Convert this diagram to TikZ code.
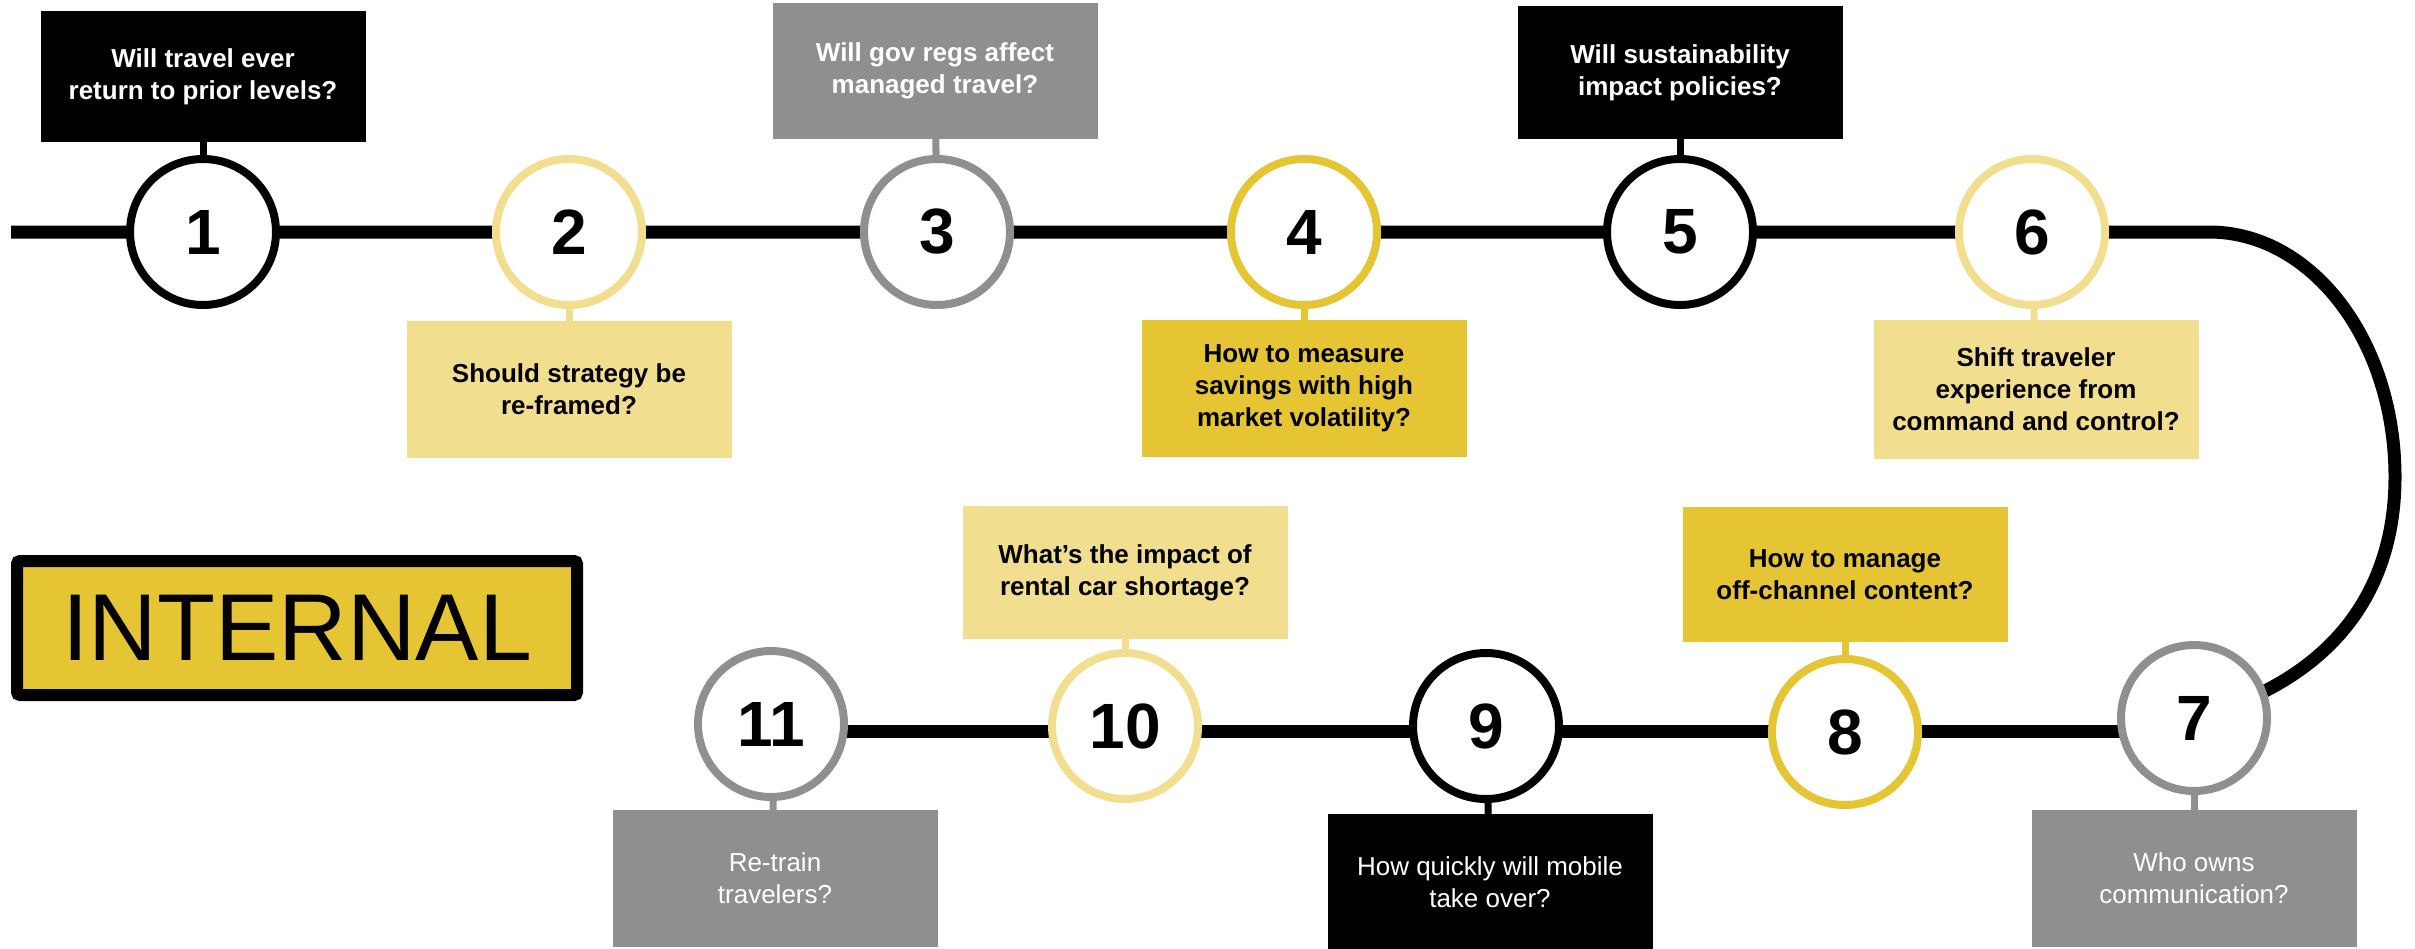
\documentclass[tikz,border=0pt]{standalone}
\usepackage{fontspec}
\setmainfont{Liberation Sans}
\usetikzlibrary{backgrounds}
\definecolor{ltyel}{RGB}{241,222,142}
\definecolor{gold}{RGB}{230,197,53}
\definecolor{gry}{RGB}{143,143,143}
\begin{document}
\begin{tikzpicture}[x=1pt,y=-1pt,
  stop/.style={circle, draw=#1, line width=8pt, fill=white, minimum size=146pt,
    inner sep=0pt, font=\fontsize{64}{64}\selectfont\bfseries},
  qbox/.style 2 args={fill=#1, text=#2, minimum width=325pt, inner sep=0pt,
    align=center, font=\fontsize{26}{32}\selectfont\bfseries},
  qreg/.style={font=\fontsize{26}{32}\selectfont},
  stub/.style={draw=#1, line width=7pt},
  mainline/.style={draw=black, line width=13pt}]
\useasboundingbox (0,0) rectangle (2415,948);

% stops
\node[stop=black]  (c1)  at (203,232)  {1};
\node[stop=ltyel]  (c2)  at (569,232)  {2};
\node[stop=gry]    (c3)  at (937,232)  {3};
\node[stop=gold]   (c4)  at (1304,232) {4};
\node[stop=black]  (c5)  at (1680,232) {5};
\node[stop=ltyel]  (c6)  at (2032,232) {6};
\node[stop=gry]    (c7)  at (2194,718) {7};
\node[stop=gold]   (c8)  at (1845,732) {8};
\node[stop=black]  (c9)  at (1486,726) {9};
\node[stop=ltyel]  (c10) at (1125,726) {10};
\node[stop=gry]    (c11) at (771,724)  {11};

% question boxes
\node[qbox={black}{white}, minimum height=131pt] (b1) at (203,76.5)
  {Will travel ever\\return to prior levels?};
\node[qbox={ltyel}{black}, minimum height=137pt] (b2) at (569,389.5)
  {Should strategy be\\re-framed?};
\node[qbox={gry}{white}, minimum height=136pt] (b3) at (935,71)
  {Will gov regs affect\\managed travel?};
\node[qbox={gold}{black}, minimum height=137pt] (b4) at (1304,388.5)
  {How to measure\\savings with high\\market volatility?};
\node[qbox={black}{white}, minimum height=133pt] (b5) at (1680,72.5)
  {Will sustainability\\impact policies?};
\node[qbox={ltyel}{black}, minimum height=139pt] (b6) at (2036,389.5)
  {Shift traveler\\experience from\\command and control?};
\node[qbox={gry}{white}, qreg, minimum height=137pt] (b7) at (2194,878.5)
  {Who owns\\communication?};
\node[qbox={gold}{black}, minimum height=135pt] (b8) at (1845,574.5)
  {How to manage\\off-channel content?};
\node[qbox={black}{white}, qreg, minimum height=137pt] (b9) at (1490,882.5)
  {How quickly will mobile\\take over?};
\node[qbox={ltyel}{black}, minimum height=133pt] (b10) at (1125,572.5)
  {What’s the impact of\\rental car shortage?};
\node[qbox={gry}{white}, qreg, minimum height=137pt] (b11) at (775,878.5)
  {Re-train\\travelers?};

% INTERNAL label
\node[draw=black, line width=12pt, rounded corners=3pt, fill=gold,
  minimum width=560pt, minimum height=134pt, inner sep=0pt,
  font=\fontsize{95}{95}\selectfont] (int) at (297,628) {INTERNAL};

% stubs
\draw[stub=black] (b1) -- (c1);
\draw[stub=ltyel] (b2) -- (c2);
\draw[stub=gry]   (b3) -- (c3);
\draw[stub=gold]  (b4) -- (c4);
\draw[stub=black] (b5) -- (c5);
\draw[stub=ltyel] (b6) -- (c6);
\draw[stub=gry]   (b7) -- (c7);
\draw[stub=gold]  (b8) -- (c8);
\draw[stub=black] (b9) -- (c9);
\draw[stub=ltyel] (b10) -- (c10);
\draw[stub=gry]   (b11) -- (c11);

% route line
\coordinate (s) at (11,232);
\coordinate (k1) at (2209,232);
\coordinate (k2) at (2395,477);
\coordinate (lw) at (771,731);
\coordinate (le) at (2194,731);
\begin{scope}[on background layer]
\draw[mainline] (s) -- (c6.center) -- (k1)
  .. controls (2312,232) and (2395,341) .. (k2)
  .. controls (2395,577) and (2347,676) .. (c7.center);
\draw[mainline] (lw) -- (le);
\end{scope}
\end{tikzpicture}
\end{document}
